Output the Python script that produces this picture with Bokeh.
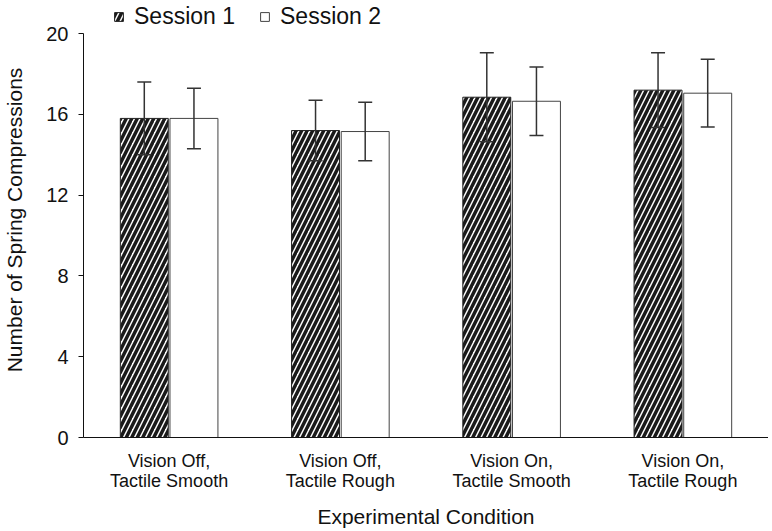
from bokeh.plotting import figure
from bokeh.models import ColumnDataSource, FactorRange, Range1d, Whisker, TeeHead, Legend, LegendItem, FixedTicker
from bokeh.transform import dodge
from bokeh.embed import file_html
from bokeh.resources import INLINE

conditions = ["Vision Off,\nTactile Smooth", "Vision Off,\nTactile Rough",
              "Vision On,\nTactile Smooth", "Vision On,\nTactile Rough"]
session1 = [15.8, 15.2, 16.85, 17.2]
session1_err = [1.8, 1.5, 2.2, 1.85]
session2 = [15.8, 15.15, 16.65, 17.05]
session2_err = [1.5, 1.45, 1.7, 1.68]
y_ticks = [0, 4, 8, 12, 16, 20]
y_axis_max = 20
y_view_top = 21.54   # extra headroom above the axis so the legend sits above it

src = ColumnDataSource(dict(
    cond=conditions,
    s1=session1, s2=session2,
    up1=[m + e for m, e in zip(session1, session1_err)],
    lo1=[m - e for m, e in zip(session1, session1_err)],
    up2=[m + e for m, e in zip(session2, session2_err)],
    lo2=[m - e for m, e in zip(session2, session2_err)],
))

FONT = "Liberation Sans"

p = figure(width=768, height=531, x_range=FactorRange(*conditions), y_range=Range1d(0, y_view_top),
           output_backend="svg", toolbar_location=None,
           min_border_left=83, min_border_right=0, min_border_top=2, min_border_bottom=94)
p.outline_line_color = None
p.xgrid.grid_line_color = None
p.ygrid.grid_line_color = None
p.background_fill_color = "white"

r1 = p.vbar(x=dodge("cond", -0.145, range=p.x_range), top="s1", width=0.28, source=src,
            fill_color="white", line_color="#222222", line_width=1,
            hatch_pattern="/", hatch_scale=11, hatch_weight=3.5, hatch_color="#1a1a1a")
r2 = p.vbar(x=dodge("cond", 0.145, range=p.x_range), top="s2", width=0.28, source=src,
            fill_color="white", line_color="#444444", line_width=1)

for off, up, lo in [(-0.145, "up1", "lo1"), (0.145, "up2", "lo2")]:
    w = Whisker(base=dodge("cond", off, range=p.x_range), upper=up, lower=lo, source=src,
                line_color="#333333", line_width=1.5, level="overlay",
                upper_head=TeeHead(size=14, line_color="#333333", line_width=1.5),
                lower_head=TeeHead(size=14, line_color="#333333", line_width=1.5))
    p.add_layout(w)

# axes
p.yaxis.bounds = (0, y_axis_max)
p.yaxis.ticker = FixedTicker(ticks=y_ticks)
p.yaxis.minor_tick_line_color = None
p.yaxis.major_tick_out = 5
p.yaxis.major_tick_in = 0
p.yaxis.axis_line_color = "#111111"
p.yaxis.major_tick_line_color = "#111111"
p.yaxis.major_label_text_font = FONT
p.yaxis.major_label_text_font_size = "20px"
p.yaxis.major_label_text_color = "#111111"
p.yaxis.major_label_standoff = 10
p.yaxis.axis_label = "Number of Spring Compressions"
p.yaxis.axis_label_text_font = FONT
p.yaxis.axis_label_text_font_size = "21px"
p.yaxis.axis_label_text_font_style = "normal"
p.yaxis.axis_label_text_color = "#111111"
p.yaxis.axis_label_standoff = 17

p.xaxis.major_tick_line_color = None
p.xaxis.minor_tick_line_color = None
p.xaxis.axis_line_color = "#111111"
p.xaxis.major_label_text_font = FONT
p.xaxis.major_label_text_font_size = "18px"
p.xaxis.major_label_text_line_height = 1.0
p.xaxis.major_label_text_color = "#111111"
p.xaxis.major_label_standoff = 7
p.xaxis.axis_label = "Experimental Condition"
p.xaxis.axis_label_text_font = FONT
p.xaxis.axis_label_text_font_size = "21px"
p.xaxis.axis_label_text_font_style = "normal"
p.xaxis.axis_label_text_color = "#111111"
p.xaxis.axis_label_standoff = 11

legend = Legend(items=[LegendItem(label="Session 1", renderers=[r1]),
                       LegendItem(label="Session 2", renderers=[r2])],
                orientation="horizontal", location=(30, 407),
                glyph_width=11, glyph_height=11, label_standoff=10, spacing=24,
                label_height=22,
                padding=0, margin=0, border_line_color=None, background_fill_alpha=0,
                label_text_font=FONT, label_text_font_size="23px", label_text_color="#111111")
p.add_layout(legend)

open("out.html", "w").write(file_html(p, INLINE))
